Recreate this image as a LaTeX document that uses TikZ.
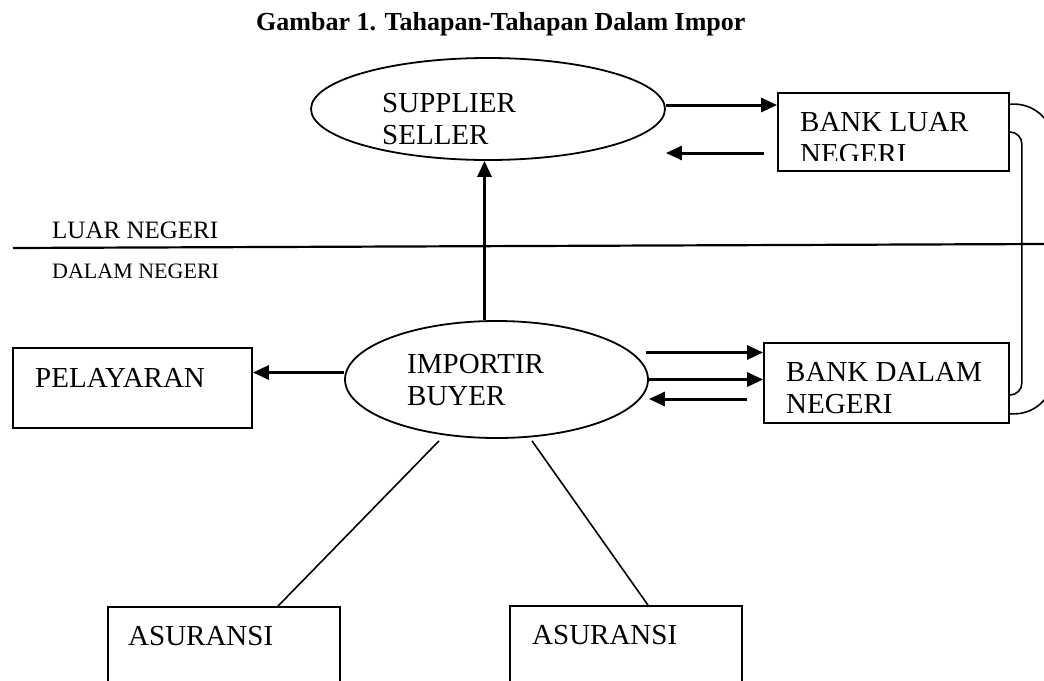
\documentclass[tikz,border=0pt]{standalone}
\usepackage{fontspec}
\setmainfont{Liberation Serif}
\usetikzlibrary{arrows.meta,shapes.geometric}

\newcommand{\bodyfont}{\fontsize{29}{32}\selectfont}

\tikzset{
  box/.style={draw=black, rectangle, line width=1.8pt, inner sep=0pt},
  oval/.style={draw=black, ellipse, line width=1.8pt, inner sep=0pt},
  lbl/.style={anchor=base west, inner sep=0pt, align=left, font=\bodyfont},
  arr/.style={-{Triangle[length=16pt,width=14pt]}, line width=3pt},
  link/.style={line width=1.6pt}
}

\begin{document}
\begin{tikzpicture}[x=1pt,y=-1pt]
    \useasboundingbox (0,0) rectangle (1044,680);
    \clip (0,0) rectangle (1044,680);

    % title
    \node[anchor=base west, inner sep=0pt, font=\fontsize{26}{30}\selectfont\bfseries] (title) at (256,30) {Gambar 1. Tahapan-Tahapan Dalam Impor};

    % shapes
    \node[oval, minimum width=354pt, minimum height=102pt] (supplier) at (488,109) {};
    \node[oval, minimum width=303pt, minimum height=117pt] (importir) at (496.5,379.5) {};
    \node[box, minimum width=231pt, minimum height=78pt] (bankluar) at (893.5,132) {};
    \node[box, minimum width=245pt, minimum height=80pt] (bankdalam) at (886.5,383) {};
    \node[box, minimum width=239pt, minimum height=80pt] (pelayaran) at (132.5,388) {};
    \node[box, minimum width=232pt, minimum height=80pt] (asuransiA) at (224,647) {};
    \node[box, minimum width=232pt, minimum height=80pt] (asuransiB) at (626,646) {};

    % texts (base = last line)
    \node[lbl] (tsupplier) at (382,144) {SUPPLIER\\SELLER};
    \node[lbl] (timportir) at (407,405) {IMPORTIR\\BUYER};
    \node[lbl] (tpelayaran) at (35,387) {PELAYARAN};
    \node[lbl] (tasuransiA) at (128,645) {ASURANSI};
    \node[lbl] (tasuransiB) at (532,644) {ASURANSI};
    \node[lbl] (tbankdalam) at (786,413) {BANK DALAM\\NEGERI};
    \begin{scope}
        \clip (778,93) rectangle (1009,160);
        \node[lbl] (tbankluar) at (800,163) {BANK LUAR\\NEGERI};
    \end{scope}

    % border line
    \coordinate (lineL) at (13,248);
    \coordinate (lineR) at (1044,244);
    \draw[line width=2.2pt] (lineL) -- (lineR);
    \node[anchor=base west, inner sep=0pt, font=\fontsize{25}{30}\selectfont] (luar) at (52,238) {LUAR NEGERI};
    \node[anchor=base west, inner sep=0pt, font=\fontsize{22}{26}\selectfont] (dalam) at (52,278) {DALAM NEGERI};

    % arrows
    \draw[arr] ([yshift=27pt]bankluar.west -| supplier.east) -- ([yshift=27pt]bankluar.west);
    \draw[arr] ([xshift=-13pt,yshift=-21pt]bankluar.west) -- ([yshift=-21pt]bankluar.west -| supplier.east);
    \draw[arr] ([xshift=-12pt]importir.north) -- ([xshift=-12pt]importir.north |- supplier.south);
    \draw[arr] ([yshift=7pt]importir.west) -- ([yshift=7pt]importir.west -| pelayaran.east);
    \draw[arr] ([xshift=-3pt,yshift=27pt]importir.east) -- ([yshift=27pt]importir.east -| bankdalam.west);
    \draw[arr] (importir.east) -- (importir.east -| bankdalam.west);
    \draw[arr] ([xshift=-16pt,yshift=-16pt]bankdalam.west) -- ([yshift=-16pt]bankdalam.west -| importir.east);

    % bank links
    \draw[link, rounded corners=40pt] ([yshift=-12pt]bankluar.north east) -- ++(44,0) |- ([yshift=10pt]bankdalam.south east);
    \draw[link, rounded corners=12pt] (bankluar.east) -- ++(12,0) |- ([yshift=-12pt]bankdalam.east);

    % asuransi links
    \draw[link] ([xshift=-57.5pt,yshift=-2pt]importir.south) -- ([xshift=54pt]asuransiA.north);
    \draw[link] ([xshift=35.5pt,yshift=-2pt]importir.south) -- ([xshift=22pt]asuransiB.north);
\end{tikzpicture}
\end{document}
